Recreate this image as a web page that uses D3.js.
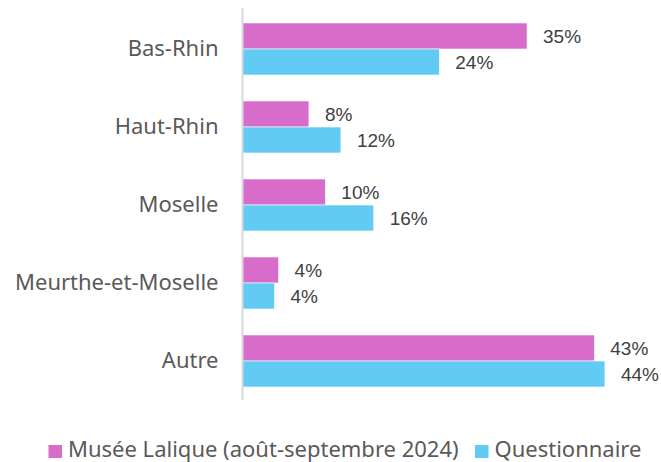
<!DOCTYPE html>
<html>
<head>
<meta charset="utf-8">
<script src="https://cdn.jsdelivr.net/npm/d3@7"></script>
<style>
  body { margin: 0; background: #fff; }
  svg { display: block; }
</style>
</head>
<body>
<div id="chart"></div>
<script>
const categories = ["Bas-Rhin", "Haut-Rhin", "Moselle", "Meurthe-et-Moselle", "Autre"];
const seriesNames = ["Musée Lalique (août-septembre 2024)", "Questionnaire"];
const museeValues = [34.7, 8.1, 10.1, 4.4, 42.9];
const questionnaireValues = [24.0, 12.0, 16.0, 3.9, 44.2];
const colors = ["#D76CCA", "#61CBF3"];

const width = 661;
const height = 462;
const labelFont = "'Noto Sans', sans-serif";
const valueFont = "'Liberation Sans', Arial, sans-serif";

// rows for the grouped bars
const rows = [];
categories.forEach((c, i) => {
  rows.push({cat: c, series: seriesNames[0], value: museeValues[i]});
  rows.push({cat: c, series: seriesNames[1], value: questionnaireValues[i]});
});

const x = d3.scaleLinear().domain([0, 50]).range([242.5, 652.5]);

const y = d3.scaleBand()
  .domain(categories)
  .range([10, 400])
  .paddingInner(1 / 3)
  .paddingOuter(1 / 6);

const ySub = d3.scaleBand()
  .domain(seriesNames)
  .range([0, y.bandwidth()]);

const color = d3.scaleOrdinal().domain(seriesNames).range(colors);

const svg = d3.select("#chart")
  .append("svg")
  .attr("width", width)
  .attr("height", height);

svg.selectAll("rect.bar")
  .data(rows)
  .enter()
  .append("rect")
  .attr("class", "bar")
  .attr("x", x(0))
  .attr("y", d => y(d.cat) + ySub(d.series))
  .attr("width", d => x(d.value) - x(0))
  .attr("height", ySub.bandwidth())
  .attr("fill", d => color(d.series))
  .attr("stroke", "#fff")
  .attr("stroke-width", 0.6);

// value labels
svg.selectAll("text.val")
  .data(rows)
  .enter()
  .append("text")
  .attr("class", "val")
  .attr("x", d => x(d.value) + 16)
  .attr("y", d => y(d.cat) + ySub(d.series) + ySub.bandwidth() / 2)
  .attr("dy", "0.35em")
  .attr("font-family", valueFont)
  .attr("font-size", 19)
  .attr("fill", "#404040")
  .text(d => Math.round(d.value) + "%");

// category axis
const yAxis = svg.append("g")
  .attr("transform", `translate(${x(0)},0)`)
  .call(d3.axisLeft(y).tickSize(0).tickPadding(24));
yAxis.select(".domain").remove();
yAxis.append("line")
  .attr("x1", 0).attr("x2", 0)
  .attr("y1", 8).attr("y2", 400)
  .attr("stroke", "#d9d9d9")
  .attr("stroke-width", 2);
yAxis.selectAll("text")
  .attr("font-family", labelFont)
  .attr("font-size", 22)
  .attr("fill", "#595959");

// legend
const legend = svg.append("g").attr("transform", "translate(0,451.5)");
const legendX = [48.5, 475];
seriesNames.forEach((s, i) => {
  const g = legend.append("g").attr("transform", `translate(${legendX[i]},0)`);
  g.append("rect")
    .attr("x", 0).attr("y", -6.5)
    .attr("width", 13.5).attr("height", 13)
    .attr("fill", color(s));
  g.append("text")
    .attr("x", 19.5)
    .attr("y", 5.5)
    .attr("font-family", labelFont)
    .attr("font-size", 22)
    .attr("fill", "#595959")
    .text(s);
});
</script>
</body>
</html>
